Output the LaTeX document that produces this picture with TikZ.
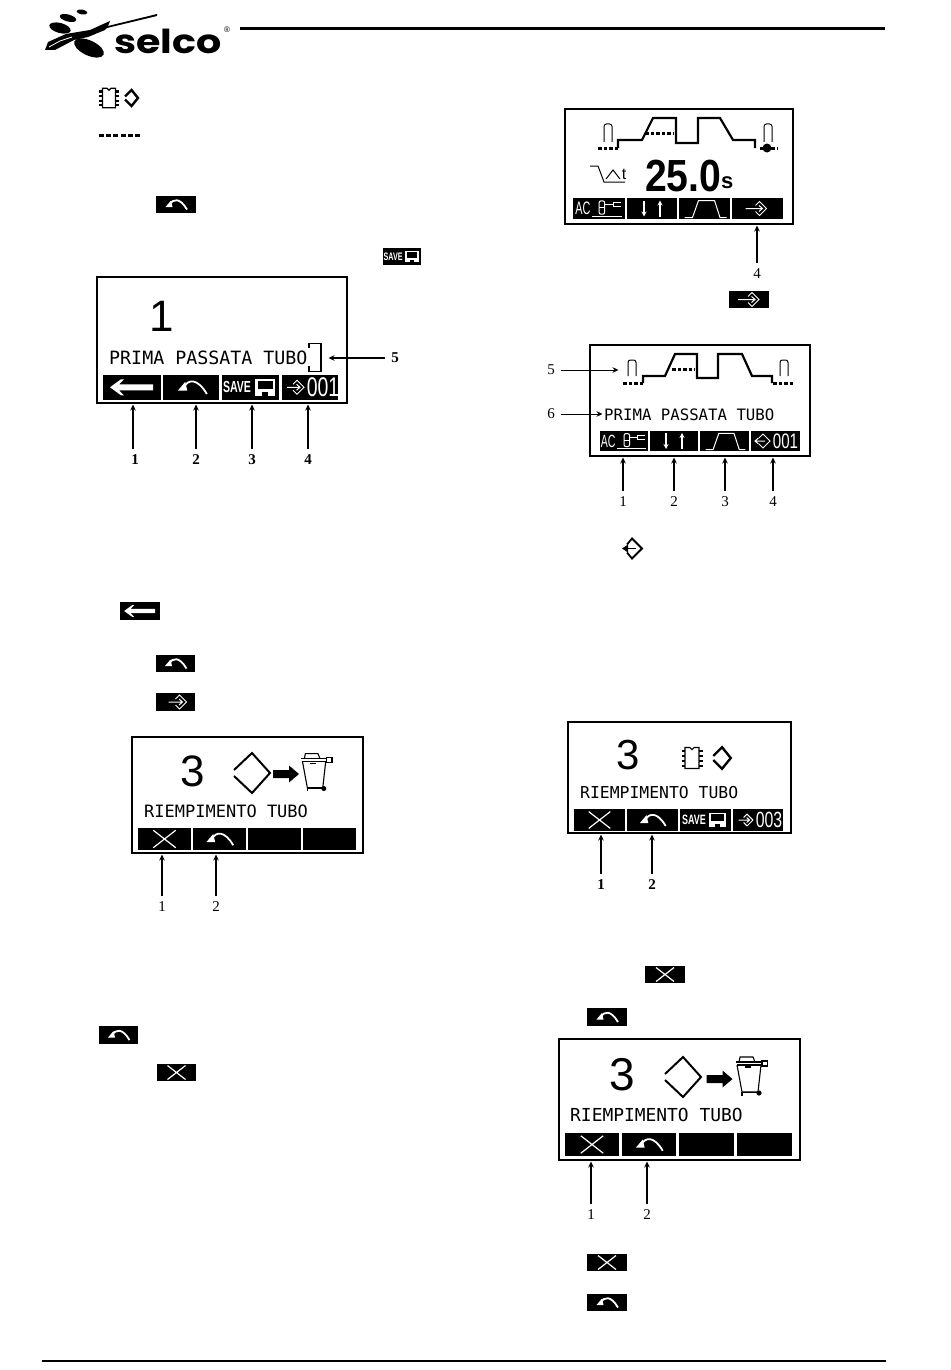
\documentclass[tikz,border=0pt]{standalone}
\usepackage{fontspec}
\setmainfont{Liberation Serif}
\newfontfamily\lcdfont{DejaVu Sans Mono}
\newfontfamily\panelsans{Liberation Sans}
\newfontfamily\logofont{Poppins}
\usetikzlibrary{arrows.meta,calc}
\tikzset{
  screen/.style={draw=black,line width=1.5pt,fill=white,inner sep=0pt,outer sep=0pt},
  softkey/.style={fill=black,inner sep=0pt,outer sep=0pt},
  callout/.style={line width=1.3pt,-{Stealth[length=6pt,width=5.5pt]},shorten >=1.5pt},
  lab/.style={font=\bfseries\fontsize{15}{15}\selectfont,inner sep=1pt,outer sep=5pt},
  labthin/.style={font=\fontsize{15}{15}\selectfont,inner sep=1pt,outer sep=5pt},
  lcdtext/.style={anchor=west,inner sep=0pt,font=\lcdfont\fontsize{#1}{#1}\selectfont},
  bignum/.style={inner sep=0pt,font=\panelsans\fontsize{#1}{#1}\selectfont},
  digits/.style={inner sep=0pt,text=white,font=\panelsans\fontsize{#1}{#1}\selectfont,xscale=.72,transform shape},
  dotted line/.style={line width=3pt,dash pattern=on 3.5pt off 2pt},
  wave/.style={line width=2.2pt,line join=miter},
  pics/undoicon/.style={code={
    \fill[white] (-10.5,2.5)--(-5,-4)--(-3.5,2.5)--cycle;
    \draw[white,line width=1.8pt] (-6,0) .. controls (-3,-6) and (4,-7) .. (11,5);
  }},
  pics/xicon/.style={code={
    \draw[white,line width=1.2pt] (-9,-7)--(9,7) (-9,7)--(9,-7);
  }},
  pics/leftarrowicon/.style={code={
    \fill[white] (-22,0)--(-11,-8)--(-8,-8)--(-13,-3)--(21,-3)--(21,3)--(-13,3)--(-8,8)--(-11,8)--cycle;
  }},
  pics/saveicon/.style={code={
    \node[transform shape,xscale=.66,text=white,inner sep=0pt,font=\panelsans\bfseries\fontsize{16}{16}\selectfont] at (-13,0) {SAVE};
    \fill[white] (5,-8.5) rectangle (25,8.5);
    \fill[black] (7.5,-6.5) rectangle (22.5,1.5);
    \fill[black] (12,4.5) rectangle (18,8.5);
  }},
  pics/selicon/.style 2 args={code={
    \draw[#1,line width=1pt] (-4,-3)--(0,-7)--(7,0)--(0,7)--(-4,3);
    \draw[#1,line width=1pt] (#2,0)--(3,0) (-.5,-3)--(3,0)--(-.5,3);
  }},
  pics/selback/.style={code={
    \draw[black,line width=1.8pt] (-6,-4)--(-1,-10)--(9,0)--(-1,10)--(-6,4);
    \draw[black,line width=1.8pt] (-9,0)--(3,0);
    \fill[black] (-11,0)--(-5,-4)--(-5,4)--cycle;
  }},
  pics/selbackwhite/.style={code={
    \draw[white,line width=1pt] (-4,-3)--(0,-7)--(7,0)--(0,7)--(-4,3);
    \draw[white,line width=1pt] (-8,0)--(2,0) (-4.5,-3)--(-8,0)--(-4.5,3);
  }},
  pics/torchicon/.style={code={
    \node[transform shape,xscale=.6,text=white,inner sep=0pt,font=\panelsans\fontsize{19}{19}\selectfont] at (-17,0) {AC};
    \draw[white,line width=1pt,rounded corners=2pt] (0,-8) rectangle (6,6);
    \draw[white,line width=1pt] (0,-1)--(6,-1);
    \draw[white,line width=1.5pt] (6,-4)--(15,-4);
    \draw[white,line width=1pt] (23,-6)--(15,-6)--(15,-2)--(23,-2);
    \draw[white,line width=1pt] (-7,8.5)--(24,8.5);
  }},
  pics/updownicon/.style={code={
    \draw[white,line width=1.2pt,-{Stealth[length=5pt,width=5pt]}] (-8,-8)--(-8,8);
    \draw[white,line width=1.2pt,-{Stealth[length=5pt,width=5pt]}] (8,8)--(8,-8);
  }},
  pics/trapicon/.style={code={
    \draw[white,line width=1pt] (-20,9)--(-12,9)--(-6,-8)--(10,-8)--(15.5,9)--(22,9);
  }},
  pics/chipicon/.style={code={
    \draw[black,line width=1.2pt] (-5,-7.5)--(-1.5,-7.5)--(0,-6)--(1.5,-7.5)--(5,-7.5)--(5,7.5)--(-5,7.5)--cycle;
    \foreach \yy in {-5,-1.5,2,5.5} {\fill[black] (-7.5,\yy-.8) rectangle (-5,\yy+.8);\fill[black] (5,\yy-.8) rectangle (7.5,\yy+.8);}
  }},
  pics/smalldiamond/.style={code={
    \draw[black,line width=2.4pt] (-6.5,-1.5)--(0,-8)--(6.5,0)--(0,8)--(-6.5,1.5);
  }},
  pics/bigdiamond/.style={code={
    \draw[black,line width=2pt] (-18,-3)--(0,-20)--(18,0)--(0,20)--(-18,3);
  }},
  pics/fatarrow/.style={code={
    \fill[black] (-13,-4)--(3,-4)--(3,-8.5)--(13,0)--(3,8.5)--(3,4)--(-13,4)--cycle;
  }},
  pics/trashicon/.style={code={
    \draw[black,line width=1.1pt] (-16,-15)--(10,-15);
    \draw[black,line width=1.1pt] (-13,-15)--(-12,-20)--(1,-20)--(3,-15);
    \draw[black,line width=1.1pt] (-15,-12)--(9,-12);
    \draw[black,line width=1.1pt] (-15,-12)--(-10,15)--(6,15)--(9,-12);
    \draw[black,line width=1.1pt] (-7,-10)--(-1,-10);
    \draw[black,line width=1.1pt] (10,-16) rectangle (15.5,-11);
    \draw[black,line width=1.6pt] (-10,15.5)--(7,15.5);
    \fill[black] (7,16) circle (2.6);
    \fill[black] (-10.8,15) rectangle (-8.8,19);
  }}
}
\newcommand{\softkeynode}[5]{\node[softkey,minimum width={(#3-#2)*1pt},minimum height={(#5-#4)*1pt}] (#1) at ({(#2+#3)/2},{(#4+#5)/2}) {};}
\newcommand{\screennode}[5]{\node[screen,minimum width={(#3-#2)*1pt},minimum height={(#5-#4)*1pt}] (#1) at ({(#2+#3)/2},{(#4+#5)/2}) {};}
\begin{document}
\begin{tikzpicture}[x=1pt,y=-1pt]
\useasboundingbox (0,0) rectangle (950,1370);
\fill[white] (0,0) rectangle (950,1370);

% logo and page rules
\fill[black,rotate around={-10:(82,12)}] (82,12) ellipse (5.5 and 2.5);
\fill[black,rotate around={-15:(68,18)}] (68,18) ellipse (8.5 and 3.5);
\fill[black,rotate around={-15:(60,28)}] (60,28) ellipse (11 and 5);
\fill[black,rotate around={-25:(89,48)}] (89,48) ellipse (16 and 7.5);
\fill[black] (157,14)--(108,26)--(110,21)--(90,30)--(66,34)--(48,42)--(45,50)--(55,50)--(74,40)--(88,37)--(105,30)--(107,28)--(157,16)--cycle;
\draw[white,line width=.8pt] (49,47)--(60,41)--(72,37);
\node[inner sep=0pt,anchor=west,font=\logofont\bfseries\fontsize{33}{33}\selectfont,xscale=1.2,transform shape] (logo) at (114,41) {selco};
\node[inner sep=0pt,font=\panelsans\fontsize{8}{8}\selectfont] (logoreg) at (227,29.5) {®};
\coordinate (ruleA) at (240,28.5); \coordinate (ruleB) at (885,28.5);
\draw[line width=2.2pt] (ruleA)--(ruleB);
\coordinate (ruleC) at (42,1361); \coordinate (ruleD) at (886,1361);
\draw[line width=2.2pt] (ruleC)--(ruleD);

% in-text icons, left column
\pic[scale=1.3] at (109,98) {chipicon};
\pic at (131.5,98) {smalldiamond};
\coordinate (dashA) at (99,135.5); \coordinate (dashB) at (141,135.5);
\draw[line width=3.5pt,dash pattern=on 5pt off 2.2pt] (dashA)--(dashB);
\softkeynode{ti1}{156}{196}{196}{213}
\pic at (ti1) {undoicon};
\softkeynode{ti2}{383}{421}{248}{265}
\pic[scale=.68] at (ti2) {saveicon};
\softkeynode{ti3}{120}{160}{602}{620}
\pic[scale=.72] at (ti3) {leftarrowicon};
\softkeynode{ti4}{156}{195}{655}{672}
\pic at (ti4) {undoicon};
\softkeynode{ti5}{156}{195}{693}{711}
\pic at ($(ti5)+(4,0)$) {selicon={white}{-11}};
\softkeynode{ti6}{99}{138}{1026}{1044}
\pic at (ti6) {undoicon};
\softkeynode{ti7}{157}{196}{1064}{1081}
\pic at (ti7) {xicon};

% in-text icons, right column
\softkeynode{ti8}{729}{769}{291}{308}
\pic at ($(ti8)+(3,0)$) {selicon={white}{-14}};
\pic at (633,548.5) {selback};
\softkeynode{ti9}{645}{685}{966}{983}
\pic at (ti9) {xicon};
\softkeynode{ti10}{587}{627}{1008}{1026}
\pic at (ti10) {undoicon};
\softkeynode{ti11}{587}{627}{1254}{1271}
\pic at (ti11) {xicon};
\softkeynode{ti12}{587}{627}{1294}{1311}
\pic at (ti12) {undoicon};

% screen 1
\screennode{s1}{97}{347}{277}{403}
\softkeynode{k11}{103}{161}{375}{399.5}
\softkeynode{k12}{163}{219}{375}{399.5}
\softkeynode{k13}{222}{279}{375}{399.5}
\softkeynode{k14}{282}{338}{375}{399.5}
\pic at (k11) {leftarrowicon};
\pic[scale=1.35] at ($(k12)+(1,0)$) {undoicon};
\pic at ($(k13)+(-.5,0)$) {saveicon};
\pic at ($(k14)+(-13,0)$) {selicon={white}{-10}};
\node[digits=27] (d1) at ($(k14)+(13,0)$) {001};
\node[bignum=44] (n1) at (162,316) {1};
\node[lcdtext=18.3] (t1) at (109,358) {PRIMA PASSATA TUBO};
\draw[line width=1.8pt] (309,348)--(309,343.5)--(321,343.5)--(321,371.5)--(309,371.5)--(309,366);
\node[lab] (l11) at (135,460) {1};
\node[lab] (l12) at (196,460) {2};
\node[lab] (l13) at (252,460) {3};
\node[lab] (l14) at (308,460) {4};
\node[lab] (l15) at (395,358) {5};
\coordinate (t15) at (327,358);
\coordinate (a11) at (133,460);
\draw[callout] (a11 |- l11.north) -- (a11 |- s1.south);
\foreach \n in {l12,l13,l14} \draw[callout] (\n) -- (\n |- s1.south);
\draw[callout] (l15) -- (t15);

% screen 2
\screennode{s2}{565}{793}{109}{224}
\softkeynode{k21}{573}{625}{198}{219}
\softkeynode{k22}{627}{677}{198}{219}
\softkeynode{k23}{679}{730}{198}{219}
\softkeynode{k24}{732}{783}{198}{219}
\pic[scale=.95] at (k21) {torchicon};
\pic at (k22) {updownicon};
\pic at (k23) {trapicon};
\pic at ($(k24)+(2,0)$) {selicon={white}{-14}};
\draw[wave] (618,148)--(618,140)--(642,140)--(653,118)--(676,118)--(676,143)--(698,143)--(698,118)--(720,118)--(733,140)--(755,140)--(755,148);
\draw[dotted line] (598,148)--(618,148);
\draw[dotted line] (645,134)--(673,134);
\draw[dotted line] (760,148)--(777,148);
\fill[black] (767,148) circle (4.5);
\draw[line width=1pt,rounded corners=2.5pt] (604,142)--(604,124)--(612,124)--(612,142);
\draw[line width=1pt,rounded corners=2.5pt] (764,142)--(764,124)--(772,124)--(772,142);
\draw[line width=1pt] (590,166)--(598,166)--(604,182)--(625,182);
\draw[line width=1pt] (606,179)--(613,170)--(620,179);
\node[inner sep=0pt,font=\panelsans\fontsize{16}{16}\selectfont] (tsym) at (624,174) {t};
\node[inner sep=0pt,anchor=west,font=\panelsans\bfseries\fontsize{45}{45}\selectfont,xscale=.87,transform shape] (val) at (645,176) {25.0};
\node[inner sep=0pt,anchor=west,font=\panelsans\bfseries\fontsize{22}{22}\selectfont] (unit) at (721,183) {s};
\node[labthin] (l24) at (757,274) {4};
\draw[callout] (l24) -- (l24 |- s2.south);

% screen 3
\screennode{s3}{590}{810}{345}{456}
\softkeynode{k31}{600}{648}{431}{451}
\softkeynode{k32}{650}{698}{431}{451}
\softkeynode{k33}{700}{749}{431}{451}
\softkeynode{k34}{751}{800}{431}{451}
\pic[scale=.93] at (k31) {torchicon};
\pic at (k32) {updownicon};
\pic[scale=.95] at (k33) {trapicon};
\pic at ($(k34)+(-12.5,0)$) {selbackwhite};
\node[digits=21] (d3) at ($(k34)+(10,0)$) {001};
\draw[wave] (643,383)--(643,376)--(665,376)--(675,354)--(697,354)--(697,378)--(718,378)--(718,354)--(742,354)--(752,376)--(772,376)--(772,383);
\draw[dotted line] (623,383)--(643,383);
\draw[dotted line] (672,369)--(695,369);
\draw[dotted line] (773,383)--(793,383);
\draw[line width=1pt,rounded corners=2.5pt] (628,376)--(628,360)--(636,360)--(636,376);
\draw[line width=1pt,rounded corners=2.5pt] (780,376)--(780,360)--(788,360)--(788,376);
\node[lcdtext=15.7] (t3) at (604,415) {PRIMA PASSATA TUBO};
\node[labthin] (l31) at (623,502) {1};
\node[labthin] (l32) at (674,502) {2};
\node[labthin] (l33) at (725,502) {3};
\node[labthin] (l34) at (773,502) {4};
\node[labthin] (l35) at (551,370) {5};
\node[labthin] (l36) at (551,414) {6};
\coordinate (t35) at (620,370); \coordinate (t36) at (604,414);
\foreach \n in {l31,l32,l33,l34} \draw[callout] (\n) -- (\n |- s3.south);
\draw[callout,line width=.9pt] (l35) -- (t35);
\draw[callout,line width=.9pt] (l36) -- (t36);

% screen 4
\screennode{s4}{132}{363}{737}{853}
\softkeynode{k41}{138}{191}{828}{850}
\softkeynode{k42}{193}{246}{828}{850}
\softkeynode{k43}{248}{301}{828}{850}
\softkeynode{k44}{303}{356}{828}{850}
\pic[scale=1.25] at (k41) {xicon};
\pic[scale=1.25] at (k42) {undoicon};
\node[bignum=44] (n4) at (193,771) {3};
\pic at (252,773) {bigdiamond};
\pic at (286,774) {fatarrow};
\pic[scale=.97] at (317,773) {trashicon};
\node[lcdtext=17] (t4) at (144,811) {RIEMPIMENTO TUBO};
\node[labthin] (l41) at (162,907) {1};
\node[labthin] (l42) at (216,907) {2};
\foreach \n in {l41,l42} \draw[callout] (\n) -- (\n |- s4.south);

% screen 5
\screennode{s5}{568}{791}{722}{833}
\softkeynode{k51}{574}{625}{809}{831}
\softkeynode{k52}{627}{678}{809}{831}
\softkeynode{k53}{680}{731}{809}{831}
\softkeynode{k54}{733}{783}{809}{831}
\pic[scale=1.2] at (k51) {xicon};
\pic[scale=1.2] at (k52) {undoicon};
\pic[scale=.85] at ($(k53)+(-.5,0)$) {saveicon};
\pic[scale=.85] at ($(k54)+(-11,0)$) {selicon={white}{-10}};
\node[digits=22] (d5) at ($(k54)+(11,0)$) {003};
\node[bignum=42] (n5) at (628,755) {3};
\pic[scale=1.4] at (692,758) {chipicon};
\pic[scale=1.35] at (722,758) {smalldiamond};
\node[lcdtext=16.4] (t5) at (580,793) {RIEMPIMENTO TUBO};
\node[lab] (l51) at (601,885) {1};
\node[lab] (l52) at (652,885) {2};
\foreach \n in {l51,l52} \draw[callout] (\n) -- (\n |- s5.south);

% screen 6
\screennode{s6}{559}{800}{1039}{1160}
\softkeynode{k61}{565}{619}{1133}{1156}
\softkeynode{k62}{622}{676}{1133}{1156}
\softkeynode{k63}{679}{734}{1133}{1156}
\softkeynode{k64}{737}{792}{1133}{1156}
\pic[scale=1.25] at (k61) {xicon};
\pic[scale=1.25] at (k62) {undoicon};
\node[bignum=46] (n6) at (622,1075) {3};
\pic at (683,1077) {bigdiamond};
\pic at (719.5,1079) {fatarrow};
\pic at (752,1077) {trashicon};
\node[lcdtext=17.9] (t6) at (570,1115) {RIEMPIMENTO TUBO};
\node[labthin] (l61) at (591,1215) {1};
\node[labthin] (l62) at (647,1215) {2};
\foreach \n in {l61,l62} \draw[callout] (\n) -- (\n |- s6.south);
\end{tikzpicture}
\end{document}
